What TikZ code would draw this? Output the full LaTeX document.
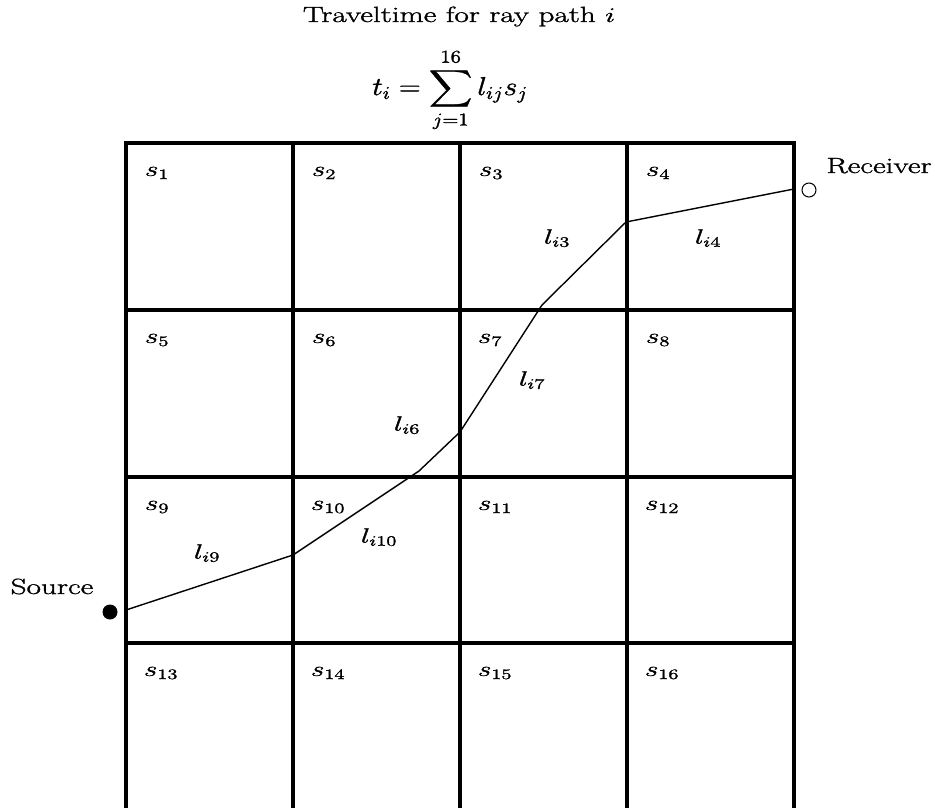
\documentclass[tikz,border=0pt]{standalone}
\usepackage{amsmath}
\usepackage{graphicx}
\newcommand{\heavy}[1]{\special{pdf:literal direct 2 Tr 0.25 w}#1\special{pdf:literal direct 0 Tr}}
\newcommand{\widetext}[1]{\scalebox{1.42}[1]{\heavy{#1}}}
\begin{document}
\begin{tikzpicture}[x=1pt,y=-1pt,
  gridline/.style={line width=3.5pt},
  ray/.style={line width=1.4pt},
  txt/.style={inner sep=0pt, font=\fontsize{22}{26}\selectfont},
  slab/.style={txt},
  llab/.style={txt}]
\useasboundingbox (0,0) rectangle (935,808);
% grid
\foreach \x in {126,293,460,627,794} \draw[gridline] (\x,141.3) -- (\x,808);
\foreach \y in {143,310,477,643} \draw[gridline] (124.3,\y) -- (795.7,\y);
% cell labels
\node[slab] (s1) at (157,173) {\widetext{$s_1$}};
\node[slab] (s2) at (324,173) {\widetext{$s_2$}};
\node[slab] (s3) at (491,173) {\widetext{$s_3$}};
\node[slab] (s4) at (658,173) {\widetext{$s_4$}};
\node[slab] (s5) at (157,340) {\widetext{$s_5$}};
\node[slab] (s6) at (324,340) {\widetext{$s_6$}};
\node[slab] (s7) at (490,340) {\widetext{$s_7$}};
\node[slab] (s8) at (658,340) {\widetext{$s_8$}};
\node[slab] (s9) at (157,507) {\widetext{$s_9$}};
\node[slab] (s10) at (328,507) {\widetext{$s_{10}$}};
\node[slab] (s11) at (495,507) {\widetext{$s_{11}$}};
\node[slab] (s12) at (662,507) {\widetext{$s_{12}$}};
\node[slab] (s13) at (161,673) {\widetext{$s_{13}$}};
\node[slab] (s14) at (328,673) {\widetext{$s_{14}$}};
\node[slab] (s15) at (495,673) {\widetext{$s_{15}$}};
\node[slab] (s16) at (662,673) {\widetext{$s_{16}$}};
% ray path
\coordinate (p0) at (126,610);
\coordinate (p1) at (293,555);
\coordinate (p2) at (419,471);
\coordinate (p3) at (460,432);
\coordinate (p4) at (542,305);
\coordinate (p5) at (626,222);
\coordinate (p6) at (794,189);
\draw[ray] (p0) -- (p1) -- (p2) -- (p3) -- (p4) -- (p5) -- (p6);
% segment labels
\node[llab] (l3) at (557,238) {\widetext{$l_{i3}$}};
\node[llab] (l4) at (708,238) {\widetext{$l_{i4}$}};
\node[llab] (l7) at (532,380) {\widetext{$l_{i7}$}};
\node[llab] (l6) at (407,425) {\widetext{$l_{i6}$}};
\node[llab] (l9) at (207,553) {\widetext{$l_{i9}$}};
\node[llab] (l10) at (379,537) {\widetext{$l_{i10}$}};
% source and receiver
\node[circle, fill=black, minimum size=15pt, inner sep=0pt] (src) at (110,612) {};
\node[circle, draw=black, line width=1pt, minimum size=14pt, inner sep=0pt] (rcv) at (809,190) {};
\node[txt, anchor=base] (srclab) at (52,594) {\widetext{Source}};
\node[txt, anchor=base] (rcvlab) at (879,173) {\widetext{Receiver}};
% title
\node[txt, anchor=base] (title) at (459,22) {\widetext{Traveltime for ray path $i$}};
\node[txt] (formula) at (450,90) {\scalebox{1.45}[1.25]{\heavy{$\displaystyle t_i=\sum_{j=1}^{16} l_{ij}s_j$}}};
\end{tikzpicture}
\end{document}
